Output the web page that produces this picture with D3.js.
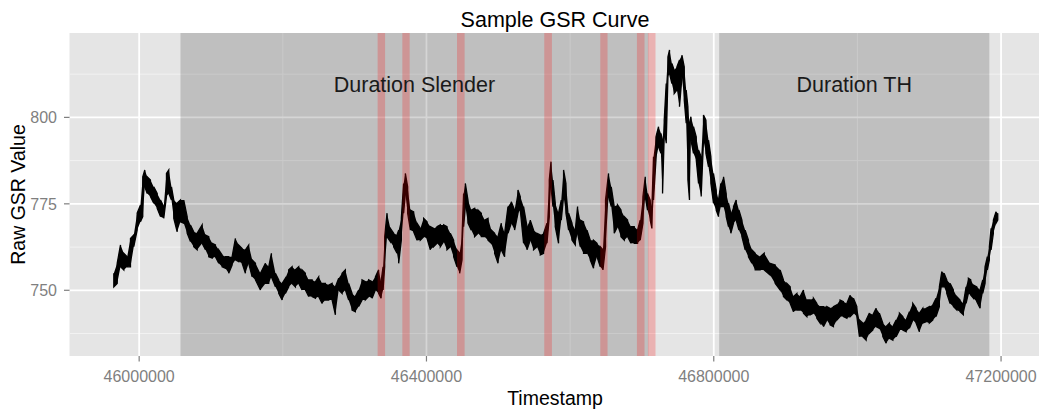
<!DOCTYPE html>
<html><head><meta charset="utf-8">
<script src="https://cdn.jsdelivr.net/npm/d3@7"></script>
<style>html,body{margin:0;padding:0;background:#fff;} svg{display:block;}</style>
</head><body><svg id="chart" width="1039" height="410"></svg>
<script>
const timestamps = [
45964700,45969400,45974000,45978600,45983300,45987900,45992500,45997200,46001800,46005000,
46007800,46011200,46015700,46020300,46025100,46029700,46034200,46038000,46041200,46045000,
46048200,46052900,46057500,46062100,46066800,46071400,46076000,46080700,46087700,46092300,
46096900,46101600,46106200,46110800,46115500,46120100,46124700,46129400,46134000,46138600,
46143400,46147900,46152500,46157300,46161900,46168800,46175800,46180400,46184100,46189700,
46194300,46199000,46203600,46208200,46212900,46217500,46222100,46226800,46231400,46236000,
46240800,46245400,46249900,46254700,46259300,46263900,46268600,46273200,46277800,46282500,
46287100,46291700,46296400,46301000,46305600,46310300,46314900,46319500,46324300,46328900,
46333400,46336800,46339600,46341800,46345100,46349700,46354300,46359000,46361300,46365000,
46368200,46370600,46373800,46377600,46382200,46386900,46391500,46396100,46400800,46405400,
46410000,46414700,46419300,46423900,46428600,46433200,46437800,46442500,46446200,46449500,
46451700,46454100,46457800,46462400,46467000,46471800,46476400,46481000,46485700,46490300,
46494900,46499600,46504200,46508800,46513500,46518100,46522700,46527400,46530600,46535200,
46540000,46544500,46549100,46553900,46558500,46563100,46567800,46571000,46573400,46576100,
46579300,46583900,46587700,46590900,46594200,46597900,46602600,46607200,46610400,46614100,
46618700,46623500,46628000,46632600,46637400,46642000,46645700,46649300,46653500,46657300,
46661400,46666000,46670800,46675400,46680000,46684700,46689300,46693900,46697600,46701400,
46704600,46707800,46711500,46713900,46716100,46719500,46723100,46726400,46728700,46731000,
46733800,46736200,46738400,46741700,46744900,46748700,46752300,46755700,46758900,46761600,
46764000,46766200,46768200,46771800,46775600,46778800,46782500,46785700,46789100,46792700,
46796000,46799600,46803400,46806600,46809900,46813600,46817300,46820500,46823800,46827500,
46831200,46835000,46839200,46843700,46848300,46853100,46857700,46864600,46870200,46878500,
46885500,46892400,46897000,46901800,46906400,46911000,46915700,46920300,46924900,46929600,
46934200,46938800,46943500,46948100,46952700,46957400,46962000,46966600,46971400,46975900,
46980500,46985300,46989900,46994500,46999200,47002800,47007500,47012100,47016700,47021500,
47026000,47030600,47035400,47040000,47044600,47049300,47053900,47058500,47063200,47067800,
47072400,47077100,47081700,47086300,47091000,47095600,47100200,47105000,47109500,47114100,
47117500,47120700,47124400,47129000,47133600,47138300,47142900,47147500,47151300,47154500,
47157800,47161500,47166200,47170800,47174500,47177700,47180900,47183700,47186100,47189300,
47193000,47195400
];
const gsrHigh = [
754.9,757.8,763.1,760.7,759.7,765.0,766.0,772.3,774.7,782.8,
784.8,782.8,781.9,779.9,778.0,776.1,774.2,783.8,784.8,779.9,
776.1,775.2,776.1,776.1,771.3,768.9,766.9,766.5,768.9,766.0,
765.5,763.6,763.1,761.7,760.2,759.7,759.7,759.7,765.0,763.1,
762.1,761.7,763.1,758.8,757.8,754.9,757.8,756.8,760.7,754.9,
753.0,752.0,753.5,755.9,756.8,755.9,756.8,755.9,754.9,753.0,
753.0,752.5,753.9,752.0,752.0,751.5,752.0,751.0,753.5,754.9,
755.9,752.0,749.1,748.2,750.1,753.0,752.5,753.0,752.5,753.9,
755.9,752.5,756.8,765.5,772.3,767.9,766.5,766.0,767.4,770.8,
780.9,783.8,779.9,773.2,772.7,769.4,767.9,770.8,769.8,768.4,
767.9,768.4,768.9,768.9,768.4,766.5,764.5,761.7,760.7,765.5,
778.0,780.9,776.1,773.2,773.7,773.2,772.3,770.3,770.8,767.4,
766.5,765.5,769.4,766.5,774.2,775.6,773.2,779.0,777.1,774.2,
768.4,770.3,767.4,766.5,766.0,766.5,769.4,781.9,787.2,781.9,
775.2,772.3,776.1,784.8,780.9,772.3,769.4,767.4,774.2,770.3,
769.8,767.4,764.5,764.5,763.6,762.6,761.7,776.1,783.8,779.9,
774.2,774.7,773.2,771.3,770.3,768.4,768.4,767.4,770.3,777.1,
782.8,778.0,776.1,774.2,788.6,794.4,797.3,795.4,793.4,799.2,
809.8,817.5,819.5,815.6,813.7,814.6,816.6,818.0,814.6,807.9,
803.1,798.3,800.2,797.3,794.4,790.6,788.6,800.7,799.2,793.4,
788.6,783.8,779.0,776.1,780.9,782.8,778.0,775.2,772.3,774.2,
776.1,773.2,770.3,767.4,764.5,761.7,760.7,759.7,760.7,757.8,
757.3,755.9,753.0,752.0,751.0,748.2,749.1,748.2,750.1,747.2,
747.2,747.7,746.2,745.3,745.3,745.3,744.8,745.3,745.8,747.2,
746.7,746.2,748.6,747.7,745.3,741.4,740.5,741.4,743.4,742.9,
744.8,743.4,740.5,739.5,740.5,739.5,741.4,743.4,742.4,741.4,
743.8,746.2,744.8,743.4,744.8,744.8,745.3,745.8,747.7,751.0,
755.4,754.9,753.0,752.0,750.1,748.2,747.2,746.2,751.0,753.5,
753.0,751.5,751.0,750.1,753.0,756.8,759.7,762.6,767.9,770.3,
772.7,772.3
];
const gsrLow = [
751.0,752.0,756.8,755.9,756.8,756.8,762.6,767.4,769.8,771.3,
779.9,778.0,777.1,775.2,773.7,771.3,770.8,777.1,778.0,776.1,
770.8,766.9,769.8,769.4,766.5,764.1,762.6,761.7,763.6,761.7,
759.7,759.3,759.7,757.8,756.8,756.4,754.9,757.3,758.8,758.3,
757.8,754.9,757.8,753.9,753.0,750.1,752.0,752.0,753.9,751.0,
749.1,747.2,749.1,751.0,752.0,751.0,752.0,750.1,750.1,748.2,
748.2,747.7,748.2,746.2,747.2,747.2,747.2,742.9,750.1,749.1,
750.1,747.2,744.3,743.8,745.3,747.2,747.2,748.2,747.7,750.1,
749.1,747.7,750.1,756.8,765.5,764.1,762.6,760.7,757.8,764.5,
772.3,778.0,772.3,767.4,766.9,764.5,764.5,765.5,765.0,761.7,
762.6,763.6,762.6,764.1,761.7,762.6,759.7,756.8,754.9,758.8,
768.4,774.2,769.4,767.4,765.5,766.5,765.5,765.5,764.5,763.6,
760.7,757.8,761.7,759.7,766.5,769.4,767.4,772.3,773.2,763.6,
761.7,764.5,761.7,762.6,760.2,760.7,763.6,771.3,779.9,774.2,
768.4,763.6,770.3,777.1,772.3,767.4,764.5,763.1,766.5,762.6,
760.7,760.7,758.8,756.4,759.7,756.8,755.9,762.6,777.1,774.2,
766.5,768.4,765.5,764.5,765.5,763.6,763.6,763.6,764.5,769.4,
777.1,773.2,770.3,767.9,776.1,787.7,791.5,789.6,778.0,794.4,
792.5,811.7,812.7,809.8,806.9,807.9,803.1,811.7,805.0,798.3,
781.9,776.1,793.4,789.6,787.7,780.9,777.1,793.4,789.6,785.7,
780.9,775.2,773.2,771.3,774.2,774.2,771.3,768.4,766.5,769.4,
770.3,767.4,765.5,761.7,759.7,757.8,755.9,755.9,755.9,754.4,
752.0,750.1,748.2,747.2,746.2,743.8,744.3,744.3,743.4,742.4,
742.9,743.4,741.9,740.5,739.5,741.4,740.0,739.5,741.4,742.4,
742.4,741.9,742.4,743.4,742.4,736.6,736.6,735.6,737.6,738.5,
739.5,739.0,736.6,734.7,736.1,735.6,736.6,738.5,738.5,738.0,
739.0,741.4,740.5,738.0,740.5,740.9,740.5,741.4,742.4,745.3,
751.0,751.0,749.1,746.2,745.3,744.3,743.8,742.9,746.2,749.1,
748.6,747.7,746.7,744.8,749.1,752.0,755.9,758.8,761.7,766.5,
769.4,770.3
];
const phaseLabels = ["Duration Slender", "Duration TH"];
const phaseStart = [46057500, 46807500];
const phaseEnd = [46709000, 47183700];
const phaseLabelValue = 810;
const eventStart = [46332000, 46366400, 46442500, 46564000, 46642000, 46693000, 46708300];
const eventEnd   = [46342400, 46376600, 46453100, 46574700, 46652100, 46703600, 46718900];
const xMajorTicks = [46000000, 46400000, 46800000, 47200000];
const xMinorTicks = [45800000, 46200000, 46600000, 47000000, 47400000];
const yMajorTicks = [750, 775, 800];
const yMinorTicks = [737.5, 762.5, 787.5, 812.5];
const xDomain = [45903000, 47257000];
const yDomain = [731.0, 824.4];
const titleText = "Sample GSR Curve";
const xTitle = "Timestamp";
const yTitle = "Raw GSR Value";

const FONT = "'Liberation Sans', Arial, Helvetica, sans-serif";
const svg = d3.select("#chart");
const x = d3.scaleLinear().domain(xDomain).range([69.5, 1042]);
const y = d3.scaleLinear().domain(yDomain).range([356, 33]);
const [px0, px1] = x.range();
const [py0, py1] = y.range();

svg.append("defs").append("clipPath").attr("id", "clip")
  .append("rect").attr("x", px0).attr("y", py1).attr("width", px1 - px0).attr("height", py0 - py1);

// panel
svg.append("rect").attr("x", px0).attr("y", py1).attr("width", px1 - px0).attr("height", py0 - py1).attr("fill", "#E5E5E5");

const grid = svg.append("g").attr("clip-path", "url(#clip)");
grid.selectAll("line.xmin").data(xMinorTicks).join("line")
  .attr("x1", d => x(d)).attr("x2", d => x(d)).attr("y1", py1).attr("y2", py0)
  .attr("stroke", "#F2F2F2").attr("stroke-width", 1);
grid.selectAll("line.ymin").data(yMinorTicks).join("line")
  .attr("y1", d => y(d)).attr("y2", d => y(d)).attr("x1", px0).attr("x2", px1)
  .attr("stroke", "#F2F2F2").attr("stroke-width", 1);
grid.selectAll("line.xmaj").data(xMajorTicks).join("line")
  .attr("x1", d => x(d)).attr("x2", d => x(d)).attr("y1", py1).attr("y2", py0)
  .attr("stroke", "#FFFFFF").attr("stroke-width", 1.8);
grid.selectAll("line.ymaj").data(yMajorTicks).join("line")
  .attr("y1", d => y(d)).attr("y2", d => y(d)).attr("x1", px0).attr("x2", px1)
  .attr("stroke", "#FFFFFF").attr("stroke-width", 1.8);

const plot = svg.append("g").attr("clip-path", "url(#clip)");
// phase rectangles
plot.selectAll("rect.phase").data(phaseStart).join("rect")
  .attr("x", (d, i) => x(d)).attr("width", (d, i) => x(phaseEnd[i]) - x(d))
  .attr("y", py1).attr("height", py0 - py1)
  .attr("fill", "#000").attr("fill-opacity", 0.165);

// GSR trace
const n = Math.min(timestamps.length, gsrHigh.length, gsrLow.length);
const samples = d3.range(n).map(i => ({t: timestamps[i], hi: gsrHigh[i], lo: gsrLow[i]}));
const area = d3.area().x(d => x(d.t)).y0(d => y(d.lo)).y1(d => y(d.hi));
plot.append("path").datum(samples).attr("d", area).attr("fill", "#000");
const zig = samples.flatMap((d, i) => i % 2 ? [[d.t, d.lo], [d.t, d.hi]] : [[d.t, d.hi], [d.t, d.lo]]);
const line = d3.line().x(p => x(p[0])).y(p => y(p[1]));
plot.append("path").datum(zig).attr("d", line).attr("fill", "none")
  .attr("stroke", "#000").attr("stroke-width", 1.3).attr("stroke-linejoin", "miter");

// event bands
plot.selectAll("rect.event").data(eventStart).join("rect")
  .attr("x", d => x(d)).attr("width", (d, i) => x(eventEnd[i]) - x(d))
  .attr("y", py1).attr("height", py0 - py1)
  .attr("fill", "#FF0000").attr("fill-opacity", 0.22);

// phase labels
plot.selectAll("text.phase").data(phaseLabels).join("text")
  .attr("x", (d, i) => x((phaseStart[i] + phaseEnd[i]) / 2))
  .attr("y", y(phaseLabelValue)).attr("dy", "0.42em")
  .attr("text-anchor", "middle").attr("font-family", FONT).attr("font-size", 21.5)
  .attr("fill", "#1a1a1a").text(d => d);

// axes
const axisG = svg.append("g");
axisG.selectAll("line.xt").data(xMajorTicks).join("line")
  .attr("x1", d => x(d)).attr("x2", d => x(d)).attr("y1", py0).attr("y2", py0 + 5.5)
  .attr("stroke", "#7F7F7F").attr("stroke-width", 1.2);
axisG.selectAll("text.xt").data(xMajorTicks).join("text")
  .attr("x", d => x(d)).attr("y", 381.5).attr("text-anchor", "middle")
  .attr("font-family", FONT).attr("font-size", 16).attr("fill", "#7F7F7F").text(d => d3.format("d")(d));
axisG.selectAll("line.yt").data(yMajorTicks).join("line")
  .attr("y1", d => y(d)).attr("y2", d => y(d)).attr("x1", px0 - 5.5).attr("x2", px0)
  .attr("stroke", "#7F7F7F").attr("stroke-width", 1.2);
axisG.selectAll("text.yt").data(yMajorTicks).join("text")
  .attr("x", 57).attr("y", d => y(d)).attr("dy", "0.36em").attr("text-anchor", "end")
  .attr("font-family", FONT).attr("font-size", 16).attr("fill", "#7F7F7F").text(d => d);

svg.append("text").attr("x", 555).attr("y", 26.5).attr("text-anchor", "middle")
  .attr("font-family", FONT).attr("font-size", 21.5).attr("fill", "#000").text(titleText);
svg.append("text").attr("x", 555).attr("y", 404.5).attr("text-anchor", "middle")
  .attr("font-family", FONT).attr("font-size", 19.5).attr("fill", "#000").text(xTitle);
svg.append("text").attr("transform", "translate(25,194.5) rotate(-90)").attr("text-anchor", "middle")
  .attr("font-family", FONT).attr("font-size", 19.5).attr("fill", "#000").text(yTitle);
</script></body></html>
